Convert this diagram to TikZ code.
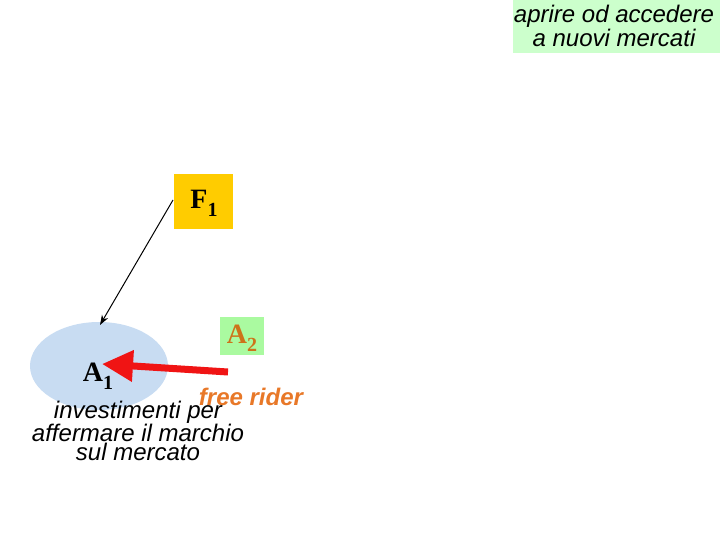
\documentclass[tikz,border=0pt]{standalone}
\usepackage{fontspec}
\setmainfont{Liberation Serif}
\setsansfont{Liberation Sans}
\usetikzlibrary{arrows.meta}
\definecolor{topgreen}{RGB}{204,255,204}
\definecolor{fgold}{RGB}{255,204,0}
\definecolor{agreen}{RGB}{170,250,160}
\definecolor{aorange}{RGB}{205,115,25}
\definecolor{frorange}{RGB}{232,120,40}
\definecolor{ellblue}{RGB}{200,220,242}
\definecolor{arrred}{RGB}{240,20,20}
\tikzset{
  itxt/.style={font=\sffamily\itshape\fontsize{24}{18.7}\selectfont, align=center, inner sep=0pt},
  sym/.style={font=\bfseries\fontsize{28}{28}\selectfont, inner sep=0pt}
}
\newcommand{\symsub}[2]{#1\raisebox{-0.28em}{\fontsize{20}{20}\selectfont #2}}
\begin{document}
\begin{tikzpicture}[x=1pt,y=-1pt]
\useasboundingbox (0,0) rectangle (720,540);
% top green box
\fill[topgreen] (513,0) rectangle (720,53);
\node[itxt, font=\sffamily\itshape\fontsize{24}{24}\selectfont] (top) at (614,26) {aprire od accedere\\a nuovi mercati};
% F1
\fill[fgold] (174,174) rectangle (233,229);
\node[sym] (F1) at (204,203) {\symsub{F}{1}};
% ellipse A1
\fill[ellblue] (99,366) ellipse [x radius=69, y radius=44];
\node[sym] (A1) at (98,376) {\symsub{A}{1}};
\coordinate (ellTop) at (100,325);
% A2
\fill[agreen] (220,317) rectangle (264,355);
\node[sym, text=aorange] (A2) at (242,338) {\symsub{A}{2}};
% arrows
\coordinate (Fstart) at (173,200);
\draw[-{Stealth[length=10pt,width=7pt]}, line width=1pt] (Fstart) -- (ellTop);
\coordinate (rtail) at (228,372);
\coordinate (rtip) at (102,364);
\draw[arrred, line width=7pt, -{Triangle[length=31pt,width=30pt]}] (rtail) -- (rtip);
% texts
\node[itxt, font=\sffamily\bfseries\itshape\fontsize{24}{24}\selectfont, text=frorange] (fr) at (251,397) {free rider};
\node[itxt] (inv) at (138,431) {investimenti per\\affermare il marchio\\sul mercato};
\end{tikzpicture}
\end{document}
